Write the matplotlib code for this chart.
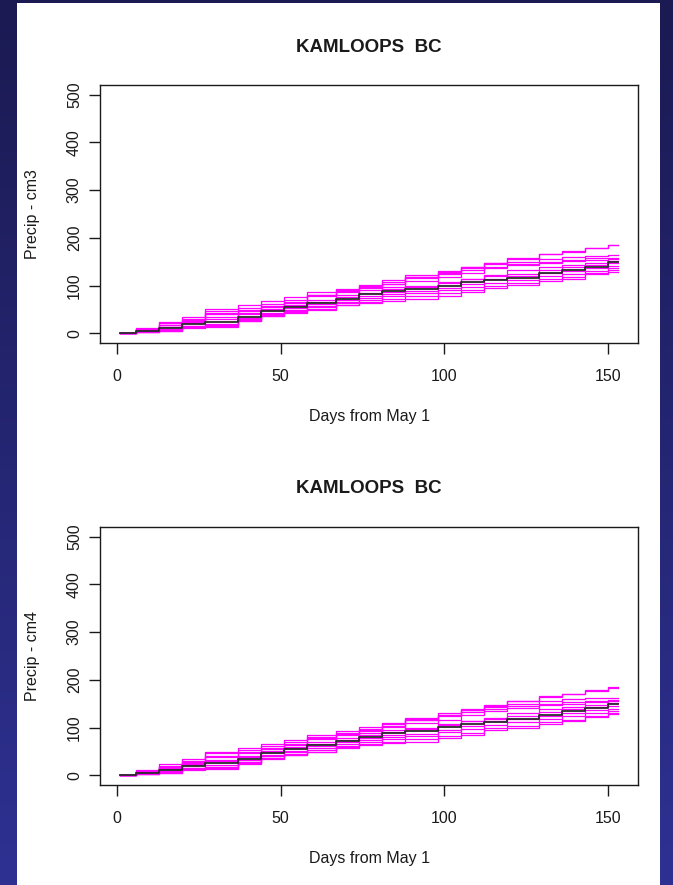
import numpy as np
import matplotlib
matplotlib.use("Agg")
import matplotlib.pyplot as plt
from matplotlib.patches import Rectangle

plt.rcParams['font.family'] = ['Liberation Sans', 'DejaVu Sans']

# ---- data -------------------------------------------------------------
station = "KAMLOOPS  BC"
xlabel = "Days from May 1"
ylabels = ["Precip - cm3", "Precip - cm4"]
x_ticks = [0, 50, 100, 150]
y_ticks = [0, 100, 200, 300, 400, 500]

# days at which the cumulative totals change (first = start, last = end)
step_days = [1, 6, 13, 20, 27, 37, 44, 51, 58, 67, 74, 81, 88,
             98, 105, 112, 119, 129, 136, 143, 150, 153]

# observed cumulative precipitation (black)
obs_cm3 = [0, 5, 12, 20, 25, 35, 46, 55, 64, 72, 82, 88, 93, 100, 107, 112, 117, 126, 133, 140, 149]
obs_cm4 = [0, 5, 12, 20, 26, 35, 46, 55, 63, 72, 81, 88, 94, 101, 107, 112, 118, 127, 134, 141, 150]

# simulated cumulative precipitation (magenta)
sim_cm3 = [
    [0, 8, 17, 27, 40, 48, 56, 64, 78, 86, 95, 103, 117, 127, 138, 147, 156, 166, 171, 178, 185],
    [0, 9, 18, 28, 42, 50, 58, 66, 80, 88, 97, 104, 118, 128, 139, 148, 157, 167, 172, 179, 186],
    [0, 12, 24, 35, 52, 59, 67, 76, 86, 94, 102, 111, 122, 131, 140, 145, 150, 156, 160, 163, 164],
    [0, 10, 21, 30, 47, 54, 62, 70, 81, 90, 99, 108, 119, 125, 133, 140, 146, 150, 154, 157, 158],
    [0, 6, 14, 22, 34, 42, 52, 60, 70, 80, 90, 97, 110, 118, 127, 136, 143, 148, 151, 154, 156],
    [0, 9, 18, 25, 30, 40, 50, 58, 66, 76, 85, 92, 100, 108, 115, 122, 132, 140, 144, 148, 152],
    [0, 7, 10, 16, 20, 32, 43, 53, 62, 70, 79, 86, 98, 106, 114, 120, 125, 133, 140, 144, 147],
    [0, 4, 9, 15, 18, 30, 40, 50, 58, 66, 75, 82, 88, 96, 104, 114, 120, 126, 131, 137, 141],
    [0, 5, 8, 14, 17, 28, 38, 46, 55, 63, 70, 78, 84, 91, 98, 106, 112, 120, 125, 131, 137],
    [0, 3, 6, 13, 16, 27, 37, 44, 51, 60, 66, 72, 78, 84, 90, 100, 105, 113, 118, 126, 132],
    [0, 3, 5, 12, 14, 26, 36, 43, 50, 59, 64, 68, 72, 79, 86, 96, 101, 109, 114, 124, 129],
]
sim_cm4 = [
    [0, 8, 16, 26, 39, 47, 55, 63, 77, 85, 94, 102, 116, 126, 137, 146, 155, 165, 170, 177, 184],
    [0, 9, 18, 28, 41, 49, 57, 66, 79, 87, 96, 104, 117, 127, 138, 147, 156, 166, 171, 178, 185],
    [0, 12, 23, 34, 50, 58, 66, 75, 85, 93, 101, 110, 121, 130, 139, 144, 149, 155, 159, 162, 163],
    [0, 10, 20, 30, 46, 53, 61, 69, 80, 89, 98, 107, 118, 124, 132, 139, 145, 149, 153, 156, 157],
    [0, 6, 14, 22, 33, 41, 51, 59, 69, 79, 89, 96, 109, 117, 126, 135, 142, 147, 150, 153, 155],
    [0, 9, 17, 25, 30, 39, 49, 57, 65, 75, 84, 91, 99, 107, 114, 121, 131, 139, 143, 147, 151],
    [0, 7, 10, 16, 21, 32, 42, 52, 61, 69, 78, 85, 97, 105, 113, 119, 124, 132, 139, 143, 146],
    [0, 4, 9, 15, 18, 29, 40, 49, 57, 65, 74, 81, 87, 95, 103, 113, 119, 125, 130, 136, 140],
    [0, 5, 8, 14, 17, 28, 37, 45, 54, 62, 69, 77, 83, 90, 97, 105, 111, 119, 124, 130, 135],
    [0, 3, 6, 13, 16, 27, 36, 43, 50, 59, 65, 71, 77, 83, 89, 99, 104, 112, 117, 125, 131],
    [0, 3, 5, 11, 14, 25, 35, 42, 49, 58, 63, 67, 71, 78, 85, 95, 100, 108, 113, 123, 128],
]

# ---- figure -----------------------------------------------------------
W, H = 673, 885
fig = plt.figure(figsize=(W / 100, H / 100), dpi=100)

# slide background: dark navy shading towards blue at the bottom
bg = fig.add_axes([0, 0, 1, 1], zorder=-10)
grad = np.linspace(0, 1, 256)[:, None]
top_col = np.array([0x1b, 0x1a, 0x52]) / 255
bot_col = np.array([0x2e, 0x31, 0x92]) / 255
img = top_col[None, None, :] * (1 - grad[..., None]) + bot_col[None, None, :] * grad[..., None]
bg.imshow(np.repeat(img, 4, axis=1), aspect='auto', extent=[0, 1, 0, 1], origin='upper')
bg.add_patch(Rectangle((17 / W, 0), (660 - 17) / W, (H - 3) / H, color='white', lw=0))
bg.set_xlim(0, 1)
bg.set_ylim(0, 1)
bg.axis('off')


def px(x, y):
    return x / W, 1 - y / H


ink = '#1a1a1a'
frame_l, frame_r = 100, 638
panels = [(85, 343, ylabels[0], obs_cm3, sim_cm3),
          (527, 785, ylabels[1], obs_cm4, sim_cm4)]

for top, bot, ylab, obs, sims in panels:
    ax = fig.add_axes([frame_l / W, 1 - bot / H, (frame_r - frame_l) / W, (bot - top) / H])
    ax.set_facecolor('none')
    for s in sims:
        ax.plot(step_days, s + [s[-1]], drawstyle='steps-post', color='#ff00ff', lw=0.9)
    ax.plot(step_days, obs + [obs[-1]], drawstyle='steps-post', color='#2b2b2b', lw=1.3)

    # R-style 4% padding around the data range
    ax.set_xlim(1 - 0.04 * 152, 153 + 0.04 * 152)
    ax.set_ylim(-20, 520)
    ax.set_xticks(x_ticks)
    ax.set_yticks(y_ticks)
    ax.tick_params(direction='out', length=8, width=1.0, color=ink, labelcolor=ink,
                   labelsize=11.5)
    ax.tick_params(axis='x', pad=11)
    ax.tick_params(axis='y', pad=5)
    for lab in ax.get_yticklabels():
        lab.set_rotation(90)
        lab.set_va('center')
    for sp in ax.spines.values():
        sp.set_color(ink)
        sp.set_linewidth(1.0)

    fig.text(*px((frame_l + frame_r) / 2, top - 38), station, ha='center', va='center',
             fontsize=13.5, fontweight='bold', color=ink)
    fig.text(*px((frame_l + frame_r) / 2, bot + 73), xlabel, ha='center', va='center',
             fontsize=11.5, color=ink)
    fig.text(*px(33, (top + bot) / 2), ylab, ha='center', va='center', rotation=90,
             fontsize=11.5, color=ink)

fig.savefig('out.png', dpi=100)
